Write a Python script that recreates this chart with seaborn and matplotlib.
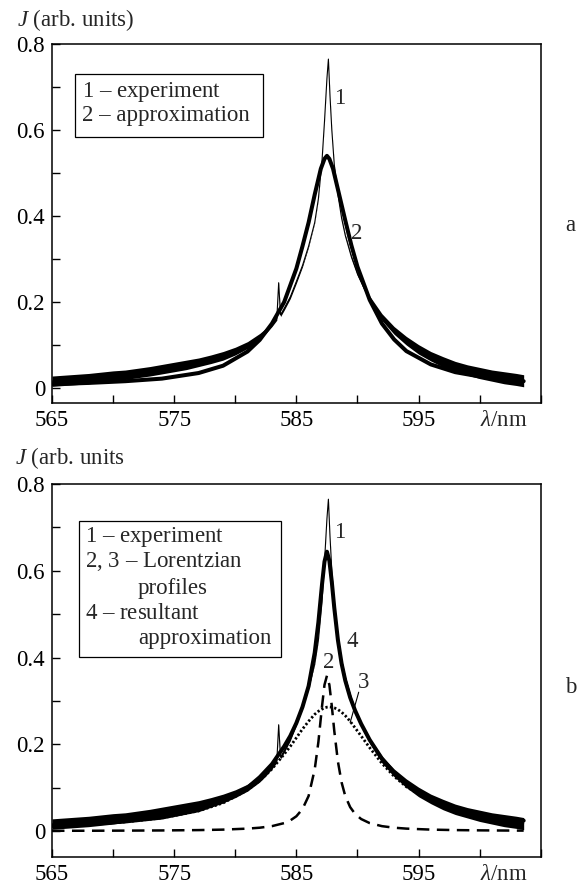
import numpy as np
import seaborn as sns
import matplotlib.pyplot as plt
from matplotlib.patches import Rectangle

# measured spectrum (same record shown in both panels)
lam_exp = [565, 566, 567, 568, 569, 570, 571, 572, 573, 574, 575, 576, 577, 578, 579, 580,
           581, 582, 582.5, 583, 583.4, 583.55, 583.7, 584, 584.5, 585, 585.5, 586, 586.5,
           586.8, 587.1, 587.3, 587.5, 587.62, 587.75, 587.9, 588.1, 588.4, 588.7, 589,
           589.5, 590, 590.5, 591, 592, 593, 594, 595, 596, 597, 598, 599, 600, 601, 602,
           603, 603.6]
j_exp = [0.016, 0.018, 0.020, 0.022, 0.025, 0.028, 0.031, 0.035, 0.039, 0.044, 0.049, 0.054,
         0.060, 0.067, 0.075, 0.086, 0.100, 0.120, 0.133, 0.148, 0.162, 0.245, 0.170, 0.185,
         0.212, 0.248, 0.285, 0.330, 0.385, 0.440, 0.530, 0.620, 0.720, 0.765, 0.680, 0.600,
         0.520, 0.450, 0.395, 0.355, 0.305, 0.265, 0.235, 0.208, 0.165, 0.134, 0.110, 0.090,
         0.074, 0.061, 0.050, 0.042, 0.035, 0.029, 0.024, 0.020, 0.017]
# half-width of the noise band around the measured trace
noise_exp = [0.012, 0.012, 0.012, 0.012, 0.012, 0.012, 0.011, 0.011, 0.011, 0.011, 0.011, 0.011,
             0.010, 0.010, 0.010, 0.009, 0.008, 0.007, 0.006, 0.005, 0.004, 0.001, 0.004, 0.004,
             0.004, 0.004, 0.003, 0.002, 0.001, 0.001, 0.001, 0.001, 0.001, 0.001, 0.001, 0.001,
             0.001, 0.001, 0.002, 0.002, 0.003, 0.004, 0.005, 0.006, 0.008, 0.009, 0.010, 0.011,
             0.011, 0.012, 0.012, 0.012, 0.013, 0.013, 0.014, 0.014, 0.014]

# panel a: single-profile approximation
lam_a = [565, 568, 571, 574, 577, 579, 581, 582, 583, 584, 585, 585.5, 586, 586.5, 587,
         587.3, 587.5, 587.7, 588, 588.5, 589, 589.5, 590, 591, 592, 593, 594, 596, 598,
         600, 602, 603.6]
j_approx = [0.009, 0.012, 0.016, 0.022, 0.035, 0.052, 0.085, 0.112, 0.150, 0.200, 0.278,
            0.330, 0.385, 0.450, 0.510, 0.533, 0.540, 0.533, 0.510, 0.450, 0.390, 0.332,
            0.282, 0.205, 0.150, 0.113, 0.086, 0.055, 0.037, 0.027, 0.020, 0.016]

# panel b: two Lorentzian components and their sum
lam_b = [565, 568, 571, 574, 577, 579, 581, 582, 583, 584, 584.5, 585, 585.5, 586, 586.5,
         586.8, 587.1, 587.3, 587.5, 587.7, 587.9, 588.1, 588.4, 588.7, 589.0, 589.4, 589.8,
         590.3, 591, 592, 593, 594, 596, 598, 600, 602, 603.6]
j_lor2 = [0.0005, 0.0006, 0.0009, 0.0013, 0.0021, 0.0032, 0.0055, 0.0076, 0.0112, 0.0182,
          0.0243, 0.034, 0.0507, 0.0807, 0.142, 0.205, 0.288, 0.337, 0.358, 0.337, 0.288,
          0.231, 0.160, 0.112, 0.0807, 0.0551, 0.0395, 0.0276, 0.0182, 0.0112, 0.0076,
          0.0055, 0.0032, 0.0021, 0.0015, 0.0011, 0.0009]
j_lor3 = [0.0118, 0.0154, 0.021, 0.0301, 0.0463, 0.0646, 0.0944, 0.116, 0.143, 0.177, 0.195,
          0.215, 0.235, 0.253, 0.269, 0.276, 0.281, 0.284, 0.2855, 0.286, 0.2855, 0.284,
          0.280, 0.274, 0.266, 0.253, 0.238, 0.219, 0.192, 0.156, 0.126, 0.102, 0.0694,
          0.0493, 0.0363, 0.0278, 0.0230]
j_result = [0.012, 0.016, 0.022, 0.031, 0.048, 0.068, 0.100, 0.124, 0.154, 0.195, 0.219,
            0.249, 0.286, 0.334, 0.411, 0.481, 0.569, 0.621, 0.644, 0.623, 0.574, 0.515,
            0.440, 0.386, 0.347, 0.308, 0.278, 0.247, 0.210, 0.167, 0.134, 0.108, 0.073,
            0.051, 0.038, 0.029, 0.024]

x_major = [565, 570, 575, 580, 585, 590, 595, 600, 605]
x_labels = ["565", "", "575", "", "585", "", "595", "", ""]
y_major = [0, 0.1, 0.2, 0.3, 0.4, 0.5, 0.6, 0.7, 0.8]
y_labels = ["0", "", "0.2", "", "0.4", "", "0.6", "", "0.8"]

sns.set_theme(style="ticks")
plt.rcParams["font.family"] = ["Liberation Serif", "DejaVu Serif"]
plt.rcParams["mathtext.fontset"] = "custom"
plt.rcParams["mathtext.rm"] = "Liberation Serif"
plt.rcParams["mathtext.it"] = "Liberation Serif:italic"
FS = 16.5

fig = plt.figure(figsize=(5.84, 8.86), dpi=100)
ax_a = fig.add_axes([0.089, 0.545, 0.837, 0.4053])
ax_b = fig.add_axes([0.089, 0.0327, 0.837, 0.421])


def style_axes(ax, ymin):
    ax.set_xlim(565, 605)
    ax.set_ylim(ymin, 0.8)
    ax.set_xticks(x_major, x_labels)
    ax.set_yticks(y_major, y_labels)
    ax.set_xticks([602], ["$\\lambda$/nm"], minor=True)
    ax.tick_params(which="major", direction="in", length=6, width=1, labelsize=FS,
                   colors="black", pad=5)
    ax.tick_params(which="minor", length=0, labelsize=FS, pad=5)
    for s in ax.spines.values():
        s.set_visible(True)
        s.set_linewidth(1.1)
        s.set_color("black")
    ax.set_xlabel("")
    ax.set_ylabel("")


def draw_exp(ax):
    lo = [j - n for j, n in zip(j_exp, noise_exp)]
    hi = [j + n for j, n in zip(j_exp, noise_exp)]
    ax.fill_between(lam_exp, lo, hi, color="black", lw=0)
    sns.lineplot(x=lam_exp, y=j_exp, ax=ax, color="black", lw=0.8, sort=False)


# ---- panel a
draw_exp(ax_a)
sns.lineplot(x=lam_a, y=j_approx, ax=ax_a, color="black", lw=2.9)
style_axes(ax_a, -0.035)
ax_a.add_patch(Rectangle((0.047, 0.741), 0.384, 0.175, transform=ax_a.transAxes,
                         fill=False, ec="black", lw=0.9))
ax_a.text(0.061, 0.867, "$\\mathit{1}$ – experiment", transform=ax_a.transAxes,
          fontsize=FS, va="center")
ax_a.text(0.061, 0.802, "2 – approximation", transform=ax_a.transAxes,
          fontsize=FS, va="center")
ax_a.text(588.6, 0.673, "$\\mathit{1}$", fontsize=FS, va="center", ha="center")
ax_a.text(589.9, 0.36, "$\\mathit{2}$", fontsize=FS, va="center", ha="center")

# ---- panel b
draw_exp(ax_b)
sns.lineplot(x=lam_b, y=j_lor2, ax=ax_b, color="black", lw=1.8,
             linestyle=(0, (5, 3)))
sns.lineplot(x=lam_b, y=j_lor3, ax=ax_b, color="black", lw=2.0,
             linestyle=(0, (0.8, 0.8)))
sns.lineplot(x=lam_b, y=j_result, ax=ax_b, color="black", lw=2.9)
style_axes(ax_b, -0.06)
ax_b.add_patch(Rectangle((0.055, 0.537), 0.413, 0.365, transform=ax_b.transAxes,
                         fill=False, ec="black", lw=0.9))
rows = [(0.0675, 0.859, "$\\mathit{1}$ – experiment"),
        (0.0675, 0.792, "$\\mathit{2}$, $\\mathit{3}$ – Lorentzian"),
        (0.176, 0.721, "profiles"),
        (0.0675, 0.654, "$\\mathit{4}$ – resultant"),
        (0.176, 0.587, "approximation")]
for x, y, s in rows:
    ax_b.text(x, y, s, transform=ax_b.transAxes, fontsize=FS, va="center")
ax_b.text(588.6, 0.689, "$\\mathit{1}$", fontsize=FS, va="center", ha="center")
ax_b.text(589.6, 0.438, "$\\mathit{4}$", fontsize=FS, va="center", ha="center")
ax_b.text(587.6, 0.389, "$\\mathit{2}$", fontsize=FS, va="center", ha="center")
ax_b.text(590.5, 0.343, "$\\mathit{3}$", fontsize=FS, va="center", ha="center")
ax_b.plot([589.4, 590.1], [0.250, 0.320], color="black", lw=0.8)

fig.text(0.029, 0.977, "$J$ (arb. units)", fontsize=FS, va="center", ha="left")
fig.text(0.026, 0.483, "$J$ (arb. units", fontsize=FS, va="center", ha="left")
fig.text(0.976, 0.746, "a", fontsize=FS, va="center", ha="center")
fig.text(0.978, 0.2235, "b", fontsize=FS, va="center", ha="center")

fig.savefig("out.png", dpi=100, facecolor="white")
